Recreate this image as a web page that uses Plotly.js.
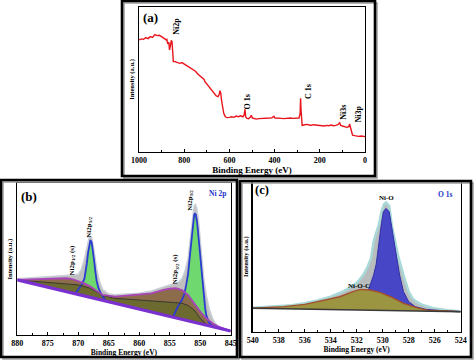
<!DOCTYPE html>
<html>
<head>
<meta charset="utf-8">
<script src="https://cdn.plot.ly/plotly-3.0.1.min.js"></script>
<style>html,body{margin:0;padding:0;background:#fff;}#chart{width:474px;height:363px;}</style>
</head>
<body>
<div id="chart"></div>
<script>
// ---------- Panel (a): survey spectrum ----------
const surveyBE = [1000,990,980,970,960,950,940,930,920,910,900,890,880,877,873,868,865,862,857,854,851,848,840,830,820,810,800,790,780,770,760,750,740,730,720,712,708,700,690,680,672,665,658,650,645,642,638,635,630,625,618,610,600,590,580,570,560,550,540,535,531,528,522,515,508,503,498,490,480,470,460,450,440,430,420,410,403,398,390,380,370,360,350,340,330,320,310,300,292,287,285,283,281,278,270,260,250,240,230,220,210,200,190,180,170,160,150,140,130,120,112,107,100,90,80,72,68,65,60,55,45,30,15,0];
const surveyI = [77.4,78.1,77.8,79.0,78.3,79.7,79.2,81.1,80.4,80.6,79.7,78.8,77.4,77.8,74.6,75.8,70.4,72.7,77.1,76.2,63.5,62.4,62.4,61.7,61.2,61.7,60.7,60.0,58.9,57.7,56.6,55.7,53.8,52.4,51.0,50.1,48.5,46.9,44.6,42.7,41.3,39.3,38.6,38.1,39.7,42.3,40.4,35.8,30.0,26.6,24.2,23.6,23.8,24.2,23.8,24.7,24.2,24.9,24.2,25.4,29.3,24.2,23.1,22.9,23.8,25.2,23.3,22.9,22.6,22.9,22.9,23.1,22.9,23.1,23.3,23.6,24.5,23.3,23.1,22.9,23.1,22.9,23.1,23.1,23.3,23.1,23.3,23.3,23.3,26.6,37.0,28.9,19.2,18.2,18.5,18.9,18.7,18.2,18.7,18.5,18.2,18.5,18.2,17.8,18.2,18.0,18.5,18.0,18.2,18.7,20.1,18.2,17.8,17.3,16.9,17.3,19.2,17.3,13.2,11.5,11.1,10.6,10.9,10.4];
const surveyTicks = [1000,800,600,400,200,0];
const surveyLabels = [
  {text:'Ni2p', be:835, v:86.7},
  {text:'O 1s', be:521, v:34.3},
  {text:'C 1s', be:252, v:41.3},
  {text:'Ni3s', be:95, v:27.3},
  {text:'Ni3p', be:30, v:25.9}
];

// ---------- Panel (b): Ni 2p ----------
const niBgBE = [880, 845];
const niBgI = [36.3, 2.6];
const niEnvBE = [880,878,876,874,872,871,870,869.5,869,868.7,868.4,868.2,868,867.8,867.5,867.2,867,866.5,866,865,864,862,860,858,856,855,854,853.5,853,852.5,852,851.7,851.4,851.2,851,850.8,850.6,850.3,850,849.7,849.4,849,848.5,848,847.5,847,846,845];
const niEnvI = [37,37.5,38,38.5,39,39.5,40,43,50,56,62,64.5,65,64,58,50,44,35,30,27,26.5,27,27.5,29,31.5,33,34,35,37,42,50,60,72,80,85,86,84,76,62,48,36,26,17,11,7.5,5.5,3.8,2.6];
const niSatBE = [880,878,876,874,872,871,870,869,868,867,866,864,862,860,858,856,855,854,853,852,851,850,849,848,847,846,845];
const niSatI = [36.3,36.7,37.1,37.4,37.4,36.9,35.6,34.0,31.9,29.0,26.4,25.3,26.0,26.4,27.5,29.7,30.5,30.8,29.7,26.4,20.9,15.4,11.0,7.7,5.5,4.0,2.6];
const niBroadBE = [880,875,872,870,868,866,864,862,860,858,856,854,853,852,851,850,849,848,845];
const niBroadI = [36.3,34.7,34.0,33.0,30.8,26.0,24.2,23.7,23.0,22.6,22.0,21.3,20.9,19.5,16.5,11.0,7.0,5.5,2.6];
const ni12BE = [870.5,870,869.5,869,868.8,868.6,868.4,868.2,868.0,867.8,867.6,867.4,867.2,867.0,866.7,866.3,865.5];
const ni12I = [27.2,30,33,37,41,47,54,60,62.6,61,56,49,42,36,31,27.5,22.3];
const ni32BE = [854.5,853.5,853,852.6,852.3,852.0,851.7,851.4,851.2,851.0,850.9,850.7,850.5,850.3,850.0,849.8,849.5,849.2,849.0,848.6,848.2,847.8,847.2,846.5];
const ni32I = [11.7,20,23,27,33,40,52,65,74,79,80.2,79,74,65,50,40,28,18,13,8.5,6.5,5.5,4.8,4.0];
const niTicks = [880,875,870,865,860,855,850,845];

// ---------- Panel (c): O 1s ----------
const oBgBE = [540, 524];
const oBgI = [15.6, 13.3];
const oEnvBE = [540,538,537,536,535,534,533.5,533,532.5,532,531.5,531.2,530.9,530.7,530.5,530.3,530.1,529.9,529.74,529.5,529.3,529.1,528.8,528.4,528.0,527.7,527.4,527,526.1,525,524];
const oEnvI = [16.0,16.9,17.6,19.0,20.8,23.4,25.0,27.0,29.5,32.5,37.8,42.5,48.9,60,66,71,80,85,86.2,84,71,63,50,37.8,26.7,22,20,18,15.6,14.3,13.5];
const oNiOBE = [534,533,532,531.5,531.1,530.7,530.5,530.3,530.1,529.95,529.74,529.5,529.2,528.95,528.7,528.4,528.0,527.5,526.7,525.7,524];
const oNiOI = [14.8,16.5,19,23,27.8,37.8,45,60,72,80,82.2,80,64,48.9,37.8,26.7,20,16.7,14.9,14.2,13.5];
const oNiOCBE = [540,537.6,536,534.6,533.3,532.3,531.7,531.0,530.2,529.4,528.4,527.4,526.6,525,524];
const oNiOCI = [15.6,16.7,18.2,21.1,23.3,26.7,28.2,27.8,26.2,23.3,18.9,16.0,14.4,13.8,13.3];
const oTicks = [540,538,536,534,532,530,528,526,524];

// ---------- helpers ----------
const W = 474, H = 363;
const px = v => v / W;
const py = v => 1 - v / H;
const FAM = 'Liberation Serif, Times New Roman, serif';
const bold = (size, color) => ({family: FAM, size: size, weight: 'bold', color: color || '#000'});

function poly(topX, topY, botX, botY) {
  return {x: topX.concat(botX.slice().reverse()), y: topY.concat(botY.slice().reverse())};
}
function fillTrace(xa, ya, p, fillcolor) {
  return {x: p.x, y: p.y, xaxis: xa, yaxis: ya, type: 'scatter', mode: 'lines', fill: 'toself',
          fillcolor: fillcolor, line: {width: 0, color: fillcolor}, hoverinfo: 'skip', showlegend: false};
}
function lineTrace(xa, ya, x, y, color, width) {
  return {x: x, y: y, xaxis: xa, yaxis: ya, type: 'scatter', mode: 'lines',
          line: {color: color, width: width}, hoverinfo: 'skip', showlegend: false};
}

const traces = [];
// (a)
traces.push(lineTrace('x', 'y', surveyBE, surveyI, '#e8141c', 1.4));

// (b)
traces.push(fillTrace('x2', 'y2', poly(niEnvBE, niEnvI, niBgBE, niBgI), '#bfbfbf'));
traces.push(lineTrace('x2', 'y2', niEnvBE, niEnvI, '#c9cfd6', 1.5));
traces.push(fillTrace('x2', 'y2', {x: ni12BE, y: ni12I}, '#6fd86f'));
traces.push(fillTrace('x2', 'y2', {x: ni32BE, y: ni32I}, '#6fd86f'));
traces.push(fillTrace('x2', 'y2', poly(niSatBE, niSatI, niBgBE, niBgI), '#8d6c4c'));
traces.push(fillTrace('x2', 'y2', poly(niBroadBE, niBroadI, niBgBE, niBgI), '#6c6a2f'));
traces.push(lineTrace('x2', 'y2', ni12BE, ni12I, '#2a3bd0', 1.8));
traces.push(lineTrace('x2', 'y2', ni32BE, ni32I, '#2a3bd0', 1.8));
traces.push(lineTrace('x2', 'y2', niBroadBE, niBroadI, '#3a3a30', 1));
traces.push(lineTrace('x2', 'y2', niSatBE, niSatI, '#a845b8', 1.8));
traces.push(lineTrace('x2', 'y2', niBgBE, niBgI, '#7b30d0', 3.2));

// (c)
traces.push(fillTrace('x3', 'y3', poly(oEnvBE, oEnvI, oBgBE, oBgI), '#b8bcbc'));
traces.push(lineTrace('x3', 'y3', oEnvBE, oEnvI, '#a8d8d8', 2.5));
traces.push(fillTrace('x3', 'y3', {x: oNiOBE, y: oNiOI}, '#4646c6'));
traces.push(lineTrace('x3', 'y3', oNiOBE, oNiOI, '#3030a8', 1));
traces.push(fillTrace('x3', 'y3', poly(oNiOCBE, oNiOCI, oBgBE, oBgI), '#9b9440'));
traces.push(lineTrace('x3', 'y3', oNiOCBE, oNiOCI, '#a3502c', 1.4));
traces.push(lineTrace('x3', 'y3', oBgBE, oBgI, '#3a3a3a', 1.4));

function xAxis(domain, range, ticks, minorDtick, anchor, titleSize) {
  return {
    domain: domain, range: range, anchor: anchor, tickmode: 'array', tickvals: ticks,
    showline: true, linecolor: '#000', linewidth: 1.4, mirror: true,
    ticks: 'inside', ticklen: 3, tickwidth: 1, tickcolor: '#000',
    minor: {dtick: minorDtick, ticks: 'inside', ticklen: 2, tickcolor: '#000', showgrid: false},
    showgrid: false, zeroline: false, tickfont: bold(8),
    title: {text: 'Binding Energy (eV)', font: bold(titleSize), standoff: 1},
    automargin: false, fixedrange: true
  };
}
function yAxis(domain, anchor) {
  return {
    domain: domain, range: [0, 100], anchor: anchor, showticklabels: false, ticks: '',
    showline: true, linecolor: '#000', linewidth: 1.4, mirror: true,
    showgrid: false, zeroline: false,
    title: {text: 'Intensity (a.u.)', font: bold(6.5), standoff: 2},
    automargin: false, fixedrange: true
  };
}

const layout = {
  width: W, height: H, margin: {l: 0, r: 0, t: 0, b: 0},
  paper_bgcolor: '#fff', plot_bgcolor: '#fff', showlegend: false,
  xaxis: xAxis([px(139), px(365)], [1000, 0], surveyTicks, 100, 'y', 9),
  yaxis: yAxis([py(151.7), py(7.3)], 'x'),
  xaxis2: xAxis([px(17.3), px(230.7)], [880, 845], niTicks, 2.5, 'y2', 7.5),
  yaxis2: yAxis([py(335), py(183.3)], 'x2'),
  xaxis3: xAxis([px(252.7), px(460.7)], [540, 524], oTicks, 1, 'y3', 7.5),
  yaxis3: yAxis([py(331.7), py(181.7)], 'x3'),
  shapes: [],
  annotations: []
};

// panel frames
const frames = [[122, 1, 375, 176], [1, 180, 237, 357], [240, 181, 471, 357]];
frames.forEach(f => {
  layout.shapes.push({type: 'rect', xref: 'paper', yref: 'paper', x0: px(f[0] + 2), x1: px(f[2] + 2), y0: py(f[3] + 2), y1: py(f[1] + 2), line: {color: '#9a9a9a', width: 1.5}});
  layout.shapes.push({type: 'rect', xref: 'paper', yref: 'paper', x0: px(f[0]), x1: px(f[2]), y0: py(f[3]), y1: py(f[1]), line: {color: '#000', width: 2.6}});
});

function ann(xref, yref, x, y, text, font, angle) {
  layout.annotations.push({xref: xref, yref: yref, x: x, y: y, text: text, showarrow: false, font: font, textangle: angle || 0, xanchor: 'center', yanchor: 'middle'});
}
// (a)
ann('x', 'y', 949, 93, '(a)', bold(13));
surveyLabels.forEach(l => ann('x', 'y', l.be, l.v, l.text, bold(8), -90));
// (b)
ann('x2', 'y2', 878.1, 91, '(b)', bold(13));
ann('x2', 'y2', 847.1, 93.6, 'Ni 2p', bold(7.5, '#2233cc'));
ann('x2', 'y2', 851.7, 89, 'Ni2p<sub>3/2</sub>', bold(7), -90);
ann('x2', 'y2', 868.2, 70.9, 'Ni2p<sub>1/2</sub>', bold(7), -90);
ann('x2', 'y2', 871.1, 48.8, 'Ni2p<sub>1/2</sub> (s)', bold(7), -90);
ann('x2', 'y2', 854.1, 43.5, 'Ni2p<sub>3/2</sub> (s)', bold(7), -90);
// (c)
ann('x3', 'y3', 539.3, 94.5, '(c)', bold(12.5));
ann('x3', 'y3', 525.2, 91.8, 'O 1s', bold(7.5, '#2233cc'));
ann('x3', 'y3', 529.7, 89, 'Ni-O', bold(7));
ann('x3', 'y3', 531.8, 30.5, 'Ni-O-C', bold(7));

Plotly.newPlot('chart', traces, layout, {staticPlot: true, displayModeBar: false});
</script>
</body>
</html>
